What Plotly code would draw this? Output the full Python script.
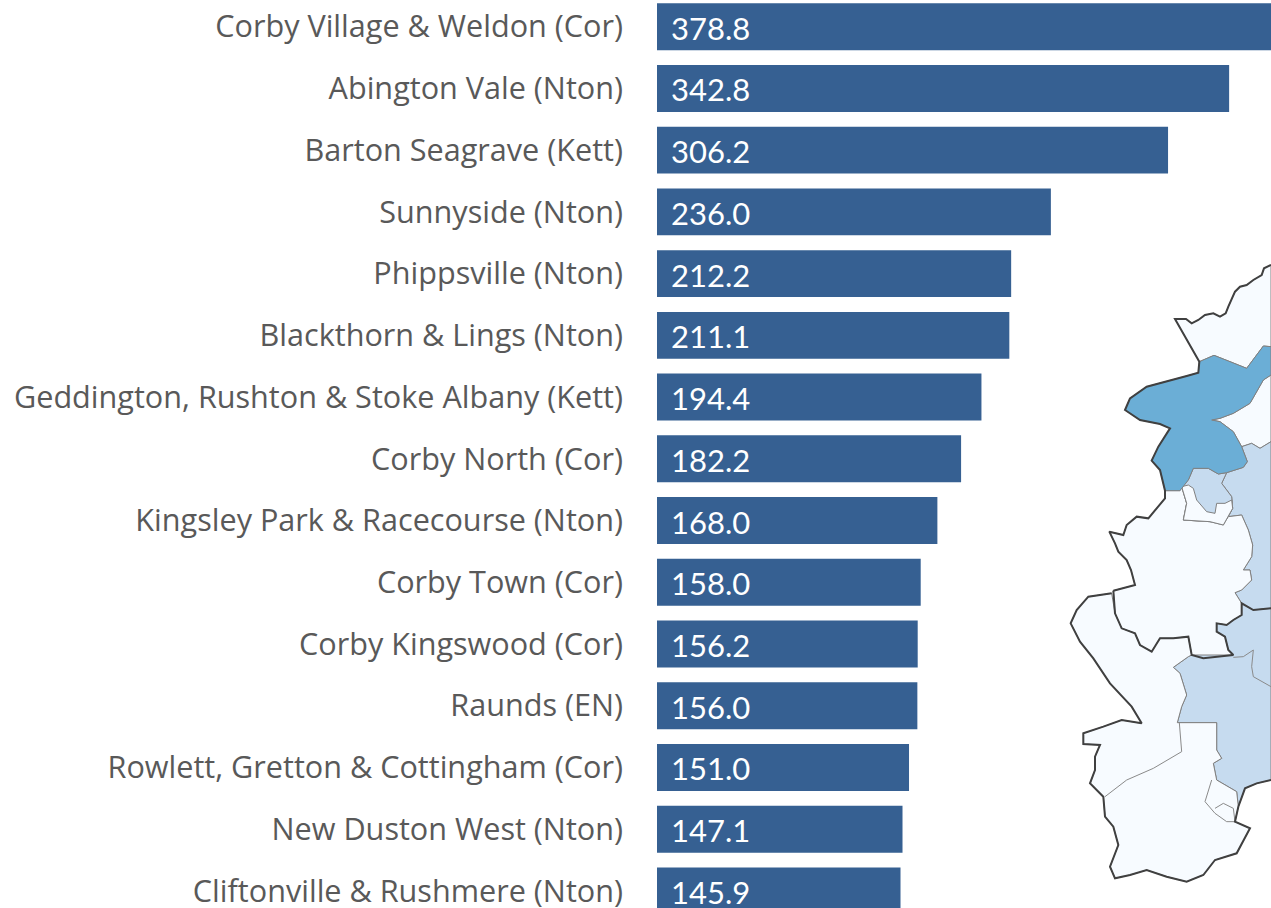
import plotly.graph_objects as go

categories = [
    "Corby Village & Weldon (Cor)", "Abington Vale (Nton)", "Barton Seagrave (Kett)",
    "Sunnyside (Nton)", "Phippsville (Nton)", "Blackthorn & Lings (Nton)",
    "Geddington, Rushton & Stoke Albany (Kett)", "Corby North (Cor)",
    "Kingsley Park & Racecourse (Nton)", "Corby Town (Cor)", "Corby Kingswood (Cor)",
    "Raunds (EN)", "Rowlett, Gretton & Cottingham (Cor)", "New Duston West (Nton)",
    "Cliftonville & Rushmere (Nton)",
]
values = [378.8, 342.8, 306.2, 236.0, 212.2, 211.1, 194.4, 182.2, 168.0, 158.0, 156.2, 156.0, 151.0, 147.1, 145.9]

# Map outlines (map units; traced by eye)
top_edge = [(633,45),(612,55),(605,75),(580,90),(560,105),(540,110),(525,125),(515,145),(505,170),(497,190),(480,200),(460,190),(435,195),(415,210),(395,220),(378,207),(345,207),(418,335)]
mid_edge = [(315,722),(315,745),(290,775),(265,805),(230,800),(200,825),(190,855),(148,845),(165,880),(175,905),(200,930),(213,960),(225,1005),(160,1022)]
river = [(160,1022),(165,1090),(185,1135),(225,1150),(240,1185),(275,1205),(300,1165),(340,1165),(385,1160),(395,1215),(430,1225),(520,1215),(505,1200),(495,1160),(470,1145),(470,1120),(500,1125),(520,1110),(545,1095),(545,1060)]
north = top_edge + [(462,316),(510,335),(560,355),(610,288),(633,290)]
blue = [(418,335),(462,316),(510,335),(560,355),(610,288),(633,290),(633,375),(610,390),(570,460),(520,490),(480,505),(455,510),(480,515),(520,545),(545,590),(562,635),(550,652),(500,668),(475,672),(445,655),(400,655),(385,690),(360,722),(315,722),(300,660),(275,632),(295,590),(330,535),(300,522),(240,510),(195,480),(210,445),(260,410),(320,395),(380,378),(415,368)]
pocket = [(633,375),(610,390),(570,460),(520,490),(480,505),(455,510),(480,515),(520,545),(545,590),(575,580),(600,595),(633,575)]
east = [(545,590),(575,580),(600,595),(633,575),(633,1075),(580,1080),(545,1060),(525,1028),(545,1020),(575,990),(570,960),(550,960),(575,920),(578,885),(565,840),(545,795),(505,800),(518,775),(515,740),(485,700),(500,668),(550,652),(562,635)]
west_mid = mid_edge + river + [(525,1028),(545,1020),(575,990),(570,960),(550,960),(575,920),(578,885),(565,840),(545,795),(505,800),(490,820),(450,815),(370,810),(380,760),(365,710),(360,722)]
town = [(365,710),(385,690),(400,655),(445,655),(475,672),(500,668),(485,700),(515,740),(518,775),(505,800),(490,825),(450,815),(370,810),(380,760)]
town_pale = [(365,710),(380,760),(370,810),(450,815),(490,825),(505,800),(518,775),(515,750),(495,760),(470,760),(465,790),(440,785),(410,750),(400,715),(385,705)]
south_east = [(633,1075),(580,1080),(545,1060),(545,1095),(520,1110),(500,1125),(470,1120),(470,1145),(495,1160),(505,1200),(520,1215),(395,1215),(385,1220),(340,1252),(360,1270),(380,1335),(365,1370),(352,1418),(470,1418),(470,1500),(485,1525),(460,1540),(470,1590),(530,1625),(535,1670),(555,1615),(590,1600),(633,1590)]
south_west = [(155,1030),(85,1040),(50,1080),(32,1120),(60,1175),(100,1225),(150,1300),(215,1370),(245,1420),(185,1410),(130,1430),(70,1450),(70,1482),(120,1485),(105,1520),(105,1560),(90,1600),(130,1640),(135,1700),(160,1730),(175,1785),(150,1850),(165,1885),(210,1875),(260,1860),(320,1880),(380,1895),(430,1875),(465,1830),(530,1810),(570,1735),(525,1715),(535,1670),(530,1625),(470,1590),(460,1540),(485,1525),(470,1500),(470,1418),(352,1418),(365,1370),(380,1335),(360,1270),(340,1252),(385,1220),(395,1215),(385,1160),(340,1165),(300,1165),(275,1205),(240,1185),(225,1150),(185,1135),(165,1090)]
thin_lines = [
    [(135,1640),(200,1590),(280,1555),(365,1505),(358,1418)],
    [(455,1590),(435,1655),(465,1690),(500,1715),(525,1715)],
    [(465,1675),(490,1660),(520,1675),(525,1715)],
    [(520,1222),(550,1220),(580,1200),(575,1250),(580,1280),(633,1310)],
]
dark_lines = [
    top_edge + [(415,368),(380,378),(320,395),(260,410),(210,445),(195,480),(240,510),(300,522),(330,535),(295,590),(275,632),(300,660)] + mid_edge,
    [(155,1030),(85,1040),(50,1080),(32,1120),(60,1175),(100,1225),(150,1300),(215,1370),(245,1420),(185,1410),(130,1430),(70,1450),(70,1482),(120,1485),(105,1520),(105,1560),(90,1600),(130,1640),(135,1700),(160,1730),(175,1785),(150,1850),(165,1885),(210,1875),(260,1860),(320,1880),(380,1895),(430,1875),(465,1830),(530,1810),(570,1735),(525,1715),(535,1670),(555,1615),(590,1600),(633,1590)],
    river + [(580,1080),(633,1075)],
]

BAR = "#366092"
PALE = "#F7FBFF"
LIGHT = "#C6DBEF"
MID = "#6BAED6"
TEXT = "#595959"

fig = go.Figure()
fig.add_trace(go.Bar(x=values, y=categories, orientation="h", marker=dict(color=BAR, line_width=0),
                     width=0.76, hoverinfo="skip", showlegend=False))

def poly(pts, fill):
    fig.add_trace(go.Scatter(x=[p[0] for p in pts] + [pts[0][0]], y=[p[1] for p in pts] + [pts[0][1]],
                             xaxis="x2", yaxis="y2", mode="lines", fill="toself", fillcolor=fill,
                             line=dict(color="#808080", width=1), hoverinfo="skip", showlegend=False))

def path(pts, color, width):
    fig.add_trace(go.Scatter(x=[p[0] for p in pts], y=[p[1] for p in pts], xaxis="x2", yaxis="y2", mode="lines",
                             line=dict(color=color, width=width), hoverinfo="skip", showlegend=False))

for pts, c in [(north, PALE), (pocket, PALE), (east, LIGHT), (west_mid, PALE), (town, LIGHT), (town_pale, PALE),
               (south_east, LIGHT), (south_west, PALE), (blue, MID)]:
    poly(pts, c)
for pts in thin_lines:
    path(pts, "#8a8a8a", 1)
for pts in dark_lines:
    path(pts, "#404040", 2)

annotations = [dict(x=0, y=c, xref="x", yref="y", text=f"{v:.1f}", showarrow=False, xanchor="left", xshift=12, yshift=-1,
                    font=dict(family="Lato", size=31, color="white")) for c, v in zip(categories, values)]

fig.update_layout(
    width=1271, height=908, autosize=False,
    margin=dict(l=0, r=0, t=0, b=0), paper_bgcolor="white", plot_bgcolor="rgba(0,0,0,0)",
    bargap=0.24, annotations=annotations,
    xaxis=dict(domain=[657/1271, 1], range=[0, 614/1.669], visible=False, fixedrange=True),
    yaxis=dict(domain=[0, 1], type="category", categoryorder="array", categoryarray=categories,
               range=[14.277, -0.4325], showline=False, showgrid=False, zeroline=False, ticks="", automargin=False,
               ticklabelstandoff=33, tickfont=dict(family="Open Sans", size=30.6, color=TEXT), tickmode="array", tickvals=categories, ticktext=categories),
    xaxis2=dict(domain=[0, 1], range=[-3180, 633], visible=False, fixedrange=True, anchor="y2"),
    yaxis2=dict(domain=[0, 1], range=[1974, -750], visible=False, fixedrange=True, anchor="x2"),
)
fig.write_html("out.html", config=dict(displayModeBar=False), post_script="document.body.style.margin='0';document.body.style.overflow='hidden';")
